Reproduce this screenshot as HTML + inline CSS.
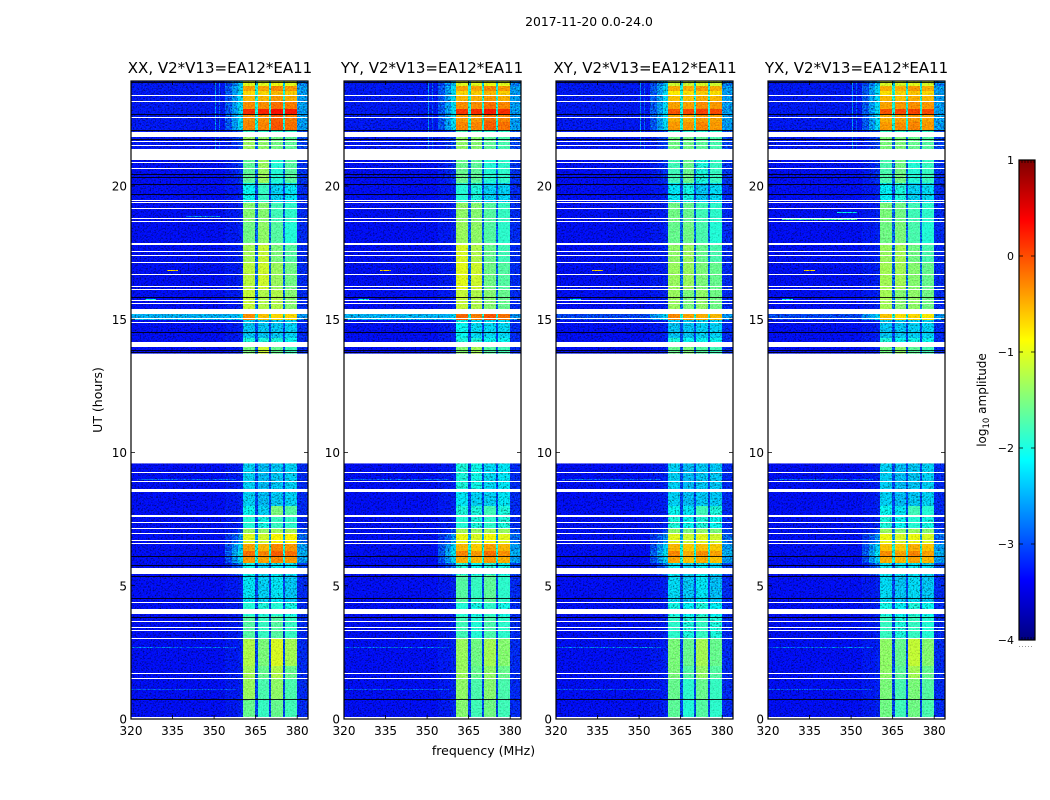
<!DOCTYPE html>
<html>
<head>
<meta charset="utf-8">
<title>2017-11-20 0.0-24.0</title>
<style>
html,body{margin:0;padding:0;background:#fff;}
svg{display:block;}
text{font-family:"DejaVu Sans","Liberation Sans",sans-serif;fill:#000;}
</style>
</head>
<body>
<svg id="chart" xmlns="http://www.w3.org/2000/svg" width="1050" height="800" viewBox="0 0 1050 800">
<defs>
<filter id="speckle" x="0" y="0" width="100%" height="100%" color-interpolation-filters="sRGB">
<feTurbulence type="fractalNoise" baseFrequency="0.72" numOctaves="2" seed="5"/>
<feColorMatrix type="matrix" values="2.2 0 0 0 -0.65  2.2 0 0 0 -0.65  2.2 0 0 0 -0.65  0 0 0 0 1"/>
</filter>
<filter id="speckle-dark" x="0" y="0" width="100%" height="100%" color-interpolation-filters="sRGB">
<feTurbulence type="fractalNoise" baseFrequency="0.6" numOctaves="2" seed="11"/>
<feColorMatrix type="matrix" values="1.7 0 0 0 0.12  1.7 0 0 0 0.12  1.7 0 0 0 0.12  0 0 0 0 1"/>
</filter>
</defs>
<text x="589" y="26" font-size="12.4" text-anchor="middle">2017-11-20 0.0-24.0</text>
<text x="483.5" y="755" font-size="12.5" text-anchor="middle">frequency (MHz)</text>
<text transform="translate(102,400) rotate(-90)" font-size="12.5" text-anchor="middle">UT (hours)</text>
<text transform="translate(986,400) rotate(-90)" font-size="12" text-anchor="middle">log<tspan font-size="8.5" dy="3">10</tspan><tspan dy="-3"> amplitude</tspan></text>
<g id="panels"></g>
<g id="colorbar"></g>
</svg>
<script>
// ---- data (log10 amplitude, hours, MHz) ----
const panelTitles = ["XX, V2*V13=EA12*EA11","YY, V2*V13=EA12*EA11","XY, V2*V13=EA12*EA11","YX, V2*V13=EA12*EA11"];
const xTicks = [320,335,350,365,380];
const yTicks = [0,5,10,15,20];
const cbarTicks = [-4,-3,-2,-1,0,1];
const cbarTickLabels = ["\u22124","\u22123","\u22122","\u22121","0","1"];

const rowStart = [0,0.74,1.5,2,3,3.85,4.4,5.4,5.85,6.1,6.3,6.56,6.95,7.15,7.6,8,8.5,13.71,14,14.3,14.98,15.18,16.1,17.1,17.8,18.7,19.4,20.1,21,21.85,22.12,22.4,22.7,22.9,23.14,23.36,23.55,23.75];
const rowEnd   = [0.74,1.5,2,3,3.85,4.4,5.4,5.85,6.1,6.3,6.56,6.95,7.15,7.6,8,8.5,9.59,14,14.3,14.98,15.18,16.1,17.1,17.8,18.7,19.4,20.1,21,21.85,22.12,22.4,22.7,22.9,23.14,23.36,23.55,23.75,23.94];

const bgLevels = [-3.3,-3.3,-3.3,-3.3,-3.3,-3.3,-3.3,-3.3,-3.3,-3.3,-3.3,-3.3,-3.3,-3.3,-3.3,-3.3,-3.3,-3.3,-3.3,-3.3,-3.0,-3.3,-3.3,-3.3,-3.3,-3.3,-3.3,-3.3,-3.25,-3.25,-3.25,-3.25,-3.25,-3.25,-3.25,-3.25,-3.25,-3.25];
const stormBg = [-2.45,-2.45,-3.0,-3.0];
const stormRow = 20;
const skirtFar  = [-3.25,-3.25,-3.25,-3.25,-3.25,-3.25,-3.25,-3.2,-2.95,-2.9,-2.95,-3.1,-3.25,-3.25,-3.25,-3.25,-3.25,-3.25,-3.25,-3.25,-2.6,-3.25,-3.25,-3.25,-3.25,-3.25,-3.25,-3.25,-3.2,-3.2,-2.9,-2.9,-2.9,-2.9,-2.9,-2.9,-2.9,-3.0];
const skirtMid  = [-3.25,-3.25,-3.25,-3.25,-3.25,-3.25,-3.25,-3.0,-2.6,-2.5,-2.6,-2.9,-3.2,-3.25,-3.25,-3.25,-3.25,-3.25,-3.25,-3.25,-2.5,-3.25,-3.25,-3.25,-3.25,-3.25,-3.25,-3.2,-3.1,-3.1,-2.55,-2.55,-2.55,-2.55,-2.55,-2.55,-2.55,-2.7];
const skirtNear = [-3.2,-3.2,-3.2,-3.2,-3.2,-3.2,-3.2,-2.8,-2.3,-2.2,-2.3,-2.6,-3.0,-3.2,-3.2,-3.2,-3.2,-3.2,-3.2,-3.2,-2.3,-3.2,-3.2,-3.2,-3.2,-3.2,-3.2,-3.1,-3.0,-3.0,-2.25,-2.25,-2.25,-2.25,-2.25,-2.25,-2.25,-2.4];
const edgeLevels = [-3.15,-3.15,-3.15,-3.15,-3.15,-3.15,-3.15,-3.0,-2.55,-2.45,-2.55,-2.8,-3.0,-3.15,-3.15,-3.15,-3.15,-3.15,-3.15,-3.15,-2.6,-3.15,-3.15,-3.15,-3.15,-3.15,-3.15,-3.1,-3.0,-3.0,-2.55,-2.55,-2.55,-2.55,-2.55,-2.55,-2.55,-2.7];
const notchLevels = [-3.0,-3.0,-3.0,-3.0,-3.0,-3.0,-3.0,-3.0,-2.0,-2.0,-2.0,-2.5,-2.8,-3.0,-3.0,-3.0,-3.0,-2.9,-3.0,-3.0,-2.0,-2.8,-2.8,-2.8,-2.8,-2.8,-3.0,-2.8,-2.8,-2.8,-2.0,-2.0,-2.0,-2.0,-2.0,-2.0,-2.0,-2.3];

const xxLevels = [
[-1.6,-1.85,-1.6,-1.8],[-1.35,-1.75,-1.4,-1.75],[-1.3,-1.6,-1.25,-1.6],[-1.25,-1.5,-1.05,-1.3],[-1.7,-1.85,-1.7,-1.85],[-1.95,-2,-1.95,-2.05],[-2.2,-2.3,-2.2,-2.35],[-2.1,-2.3,-2.2,-2.2],
[-.4,-.45,-.3,-.4],[-.2,-.3,-.1,-.2],[-.45,-.55,-.3,-.4],[-1.0,-1.1,-.85,-.85],[-1.35,-1.4,-1.3,-1.3],[-1.95,-2.05,-1.85,-1.9],[-2.1,-2.3,-1.5,-1.7],[-2.3,-2.4,-2.35,-2.3],[-2.3,-2.4,-2.35,-2.3],
[-1.5,-1.1,-1.6,-1.8],[-2.0,-2.0,-2.0,-2.1],[-2.35,-2.35,-2.35,-2.3],[-.35,-.6,-.7,-.7],[-1.15,-1.25,-1.25,-1.45],[-1.2,-1.1,-1.35,-1.55],[-1.3,-1.15,-1.5,-1.7],[-1.55,-1.4,-1.7,-1.95],[-1.45,-1.45,-1.8,-1.9],[-2.1,-1.85,-2.3,-2.2],[-1.65,-1.35,-1.95,-1.7],[-1.35,-1.4,-1.55,-1.65],[-1.9,-1.9,-1.9,-1.9],
[-.3,-.3,-.05,-.2],[-.35,-.35,-.1,-.25],[.15,.2,.3,.25],[-.35,-.35,-.2,-.25],[-.55,-.55,-.4,-.5],[-.7,-.7,-.55,-.65],[-.45,-.45,-.3,-.4],[-1.0,-1.0,-.95,-1.0]];
const yyLevels = [
[-1.45,-1.8,-1.55,-1.8],[-1.4,-1.75,-1.45,-1.75],[-1.35,-1.6,-1.4,-1.6],[-1.35,-1.55,-1.3,-1.45],[-1.8,-1.95,-1.75,-1.9],[-1.95,-2.05,-1.9,-2.05],[-1.7,-1.85,-1.65,-1.9],[-2.0,-2.1,-2.0,-2.1],
[-.5,-.55,-.4,-.5],[-.3,-.4,-.2,-.35],[-.55,-.65,-.45,-.55],[-.95,-1.05,-.9,-1],[-1.3,-1.35,-1.3,-1.35],[-1.95,-2.0,-1.9,-2.0],[-2.0,-2.0,-1.8,-2.0],[-2.2,-2.3,-2.3,-2.2],[-2.0,-2.05,-2.25,-2.2],
[-1.45,-1.3,-1.7,-1.8],[-2.0,-2.0,-2.1,-2.1],[-2.1,-2.25,-2.25,-2.25],[-.15,-.25,-.05,-.2],[-1.15,-1.25,-1.45,-1.6],[-1.0,-1.1,-1.55,-1.7],[-1.05,-1.25,-1.6,-1.8],[-1.35,-1.4,-1.7,-1.9],[-1.4,-1.45,-1.7,-1.85],[-1.95,-2.0,-2.3,-2.3],[-1.6,-1.65,-1.95,-1.9],[-1.4,-1.45,-1.65,-1.75],[-1.8,-1.8,-1.9,-1.9],
[-.3,-.3,-.1,-.2],[-.4,-.4,-.2,-.3],[.1,.15,.25,.15],[-.35,-.35,-.2,-.3],[-.55,-.5,-.4,-.5],[-.7,-.65,-.55,-.65],[-.45,-.45,-.3,-.4],[-1.0,-1.0,-.95,-1.0]];
const xyLevels = [
[-1.65,-1.95,-1.7,-1.9],[-1.6,-1.9,-1.6,-1.85],[-1.5,-1.7,-1.4,-1.7],[-1.5,-1.6,-1.3,-1.6],[-1.9,-2,-1.85,-2],[-2.05,-2.15,-2.0,-2.15],[-2.25,-2.35,-2.2,-2.4],[-2.2,-2.3,-2.2,-2.3],
[-.45,-.6,-.5,-.6],[-.3,-.5,-.35,-.45],[-.55,-.65,-.6,-.65],[-1.0,-1.1,-1,-1.1],[-1.4,-1.5,-1.4,-1.5],[-2.0,-2.1,-2.0,-2.1],[-2.1,-2.2,-1.8,-2.0],[-2.3,-2.4,-2.35,-2.35],[-2.3,-2.4,-2.35,-2.35],
[-1.6,-1.5,-1.7,-1.8],[-2.0,-2.1,-2.1,-2.1],[-2.35,-2.35,-2.3,-2.3],[-.3,-.45,-.5,-.55],[-1.35,-1.5,-1.4,-1.55],[-1.35,-1.35,-1.5,-1.6],[-1.4,-1.35,-1.6,-1.75],[-1.6,-1.55,-1.75,-1.95],[-1.55,-1.6,-1.8,-1.9],[-2.2,-2.05,-2.35,-2.25],[-1.8,-1.6,-2.0,-1.85],[-1.55,-1.55,-1.65,-1.75],[-1.95,-1.95,-1.95,-1.95],
[-.4,-.4,-.3,-.4],[-.5,-.5,-.4,-.45],[-.05,0,.05,0],[-.45,-.45,-.35,-.4],[-.6,-.6,-.5,-.55],[-.8,-.75,-.65,-.75],[-.5,-.5,-.4,-.5],[-1.1,-1.1,-1.05,-1.1]];
const yxLevels = [
[-1.55,-1.8,-1.55,-1.75],[-1.5,-1.75,-1.5,-1.7],[-1.4,-1.65,-1.3,-1.6],[-1.4,-1.6,-1.15,-1.45],[-1.85,-2,-1.85,-1.95],[-2.05,-2.15,-2.0,-2.1],[-2.25,-2.35,-2.25,-2.35],[-2.2,-2.2,-2.2,-2.25],
[-.5,-.55,-.45,-.55],[-.35,-.45,-.3,-.45],[-.6,-.65,-.5,-.6],[-.95,-1.05,-.95,-1.05],[-1.35,-1.45,-1.35,-1.45],[-2.0,-2.1,-1.95,-2.05],[-2.1,-2.2,-1.8,-1.95],[-2.3,-2.4,-2.35,-2.3],[-2.3,-2.4,-2.35,-2.3],
[-1.55,-1.4,-1.65,-1.8],[-2.0,-2.1,-2.05,-2.1],[-2.35,-2.35,-2.3,-2.3],[-.6,-.75,-.7,-.8],[-1.3,-1.45,-1.4,-1.55],[-1.3,-1.3,-1.45,-1.6],[-1.35,-1.3,-1.55,-1.75],[-1.55,-1.5,-1.75,-1.95],[-1.5,-1.55,-1.8,-1.9],[-2.15,-2.0,-2.3,-2.25],[-1.75,-1.55,-1.95,-1.85],[-1.5,-1.5,-1.6,-1.7],[-1.9,-1.9,-1.9,-1.9],
[-.4,-.35,-.3,-.4],[-.5,-.45,-.4,-.45],[-.05,0,.05,0],[-.45,-.4,-.35,-.4],[-.55,-.6,-.5,-.55],[-.75,-.7,-.6,-.7],[-.5,-.5,-.4,-.5],[-1.05,-1.05,-1.0,-1.05]];
const panelLevels = [xxLevels,yyLevels,xyLevels,yxLevels];

const gapStart = [0,0.06,1.49,1.70,2.99,3.31,3.43,3.63,3.94,4.34,5.44,6.56,6.69,6.94,7.14,7.37,7.59,8.50,8.88,9.23,13.97,14.87,15.0,15.18,15.57,15.67,16.11,16.22,16.67,17.11,17.36,17.51,17.77,18.66,18.77,19.14,19.35,19.45,20.64,20.87,20.97,21.5,21.65,21.84,22.55,23.14,23.36];
const gapEnd   = [0.03,0.09,1.53,1.74,3.03,3.35,3.47,3.67,4.13,4.38,5.67,6.60,6.73,6.98,7.18,7.41,7.64,8.62,8.92,9.27,14.13,14.91,15.04,15.37,15.61,15.71,16.15,16.26,16.71,17.15,17.40,17.55,17.87,18.70,18.81,19.18,19.39,19.49,20.68,20.91,21.37,21.54,21.69,22.03,22.59,23.18,23.40];
const blackHours = [0.74,3.84,4.53,5.37,5.78,6.12,13.77,13.86,14.51,15.82,19.69,20.09,20.35,20.45,21.76,22.12,22.69,23.92];

// panel -1 means the streak shows in every polarisation
const streakHour = [1.1,2.65,8.97,15.73,16.8,18.85,18.72,19.0];
const streakFrom = [320,320,322,325,333,340,325,345];
const streakTo   = [358,358,358,329,337,352,352,352];
const streakLevel= [-2.9,-2.8,-2.85,-2.1,-0.7,-2.6,-1.8,-2.1];
const streakPanel= [-1,-1,-1,-1,-1,0,3,3];

const spikeFreq = [350.5,351.6];
const spikeFrom = [21.4,21.4];
const spikeTo   = [23.9,23.9];
const spikeLevel= [-2.6,-2.9];

// ---- axes ----
const panelX = [131,344,556,768];
const titleX = [220,432,645,856.5];
const subbandEdges = [[360.5,364.7],[365.7,369.9],[370.6,375],[375.7,379.9]];
const plotW = 177, plotTop = 81, plotBottom = 719;
const xMin = 320, xMax = 383.9, yMin = 0, yMax = 23.94;
const cbarX = 1019, cbarW = 16, cbarTop = 160, cbarBottom = 640, cMin = -4, cMax = 1;
const NS = "http://www.w3.org/2000/svg";

function xScale(p, f){ return panelX[p] + (f - xMin) / (xMax - xMin) * plotW; }
function yScale(h){ return plotBottom - (h - yMin) / (yMax - yMin) * (plotBottom - plotTop); }
function cScale(v){ return cbarBottom - (v - cMin) / (cMax - cMin) * (cbarBottom - cbarTop); }
function jet(v){
  const t = Math.max(0, Math.min(1, (v - cMin) / (cMax - cMin)));
  const ramp = (a) => Math.max(0, Math.min(1, 1.5 - Math.abs(4 * t - a)));
  const c = [ramp(3), ramp(2), ramp(1)].map(x => Math.round(x * 255));
  return "rgb(" + c.join(",") + ")";
}
function mk(parent, tag, attrs){
  const el = document.createElementNS(NS, tag);
  for (const k in attrs) el.setAttribute(k, attrs[k]);
  parent.appendChild(el);
  return el;
}
function cell(g, p, f0, f1, h0, h1, level, alpha){
  const x0 = Math.round(xScale(p, f0)), x1 = Math.round(xScale(p, f1));
  const y0 = Math.round(yScale(h1)), y1 = Math.round(yScale(h0));
  const el = mk(g, "rect", {x:x0, y:y0, width:Math.max(1, x1-x0), height:Math.max(1, y1-y0), fill:jet(level), "fill-opacity":alpha === undefined ? 1 : alpha, "shape-rendering":"crispEdges"});
  
  
}

const root = document.getElementById("panels");
panelTitles.forEach((title, p) => {
  const g = mk(root, "g", {});
  
  
  const heat = mk(g, "g", {});
  
  
  rowStart.forEach((h0, r) => {
    const h1 = rowEnd[r], lv = panelLevels[p][r];
    const storm = r === stormRow;
    const bg = storm ? stormBg[p] : bgLevels[r];
    cell(heat, p, 320, 354, h0, h1, bg);
    cell(heat, p, 354, 356.5, h0, h1, storm ? Math.max(stormBg[p], skirtFar[r]) : skirtFar[r]);
    cell(heat, p, 356.5, 358.5, h0, h1, storm ? Math.max(stormBg[p], skirtMid[r]) : skirtMid[r]);
    cell(heat, p, 358.5, 360.5, h0, h1, storm ? Math.max(stormBg[p], skirtNear[r]) : skirtNear[r]);
    cell(heat, p, 360.5, 364.7, h0, h1, lv[0]);
    cell(heat, p, 364.7, 365.7, h0, h1, notchLevels[r]);
    cell(heat, p, 365.7, 369.9, h0, h1, lv[1]);
    cell(heat, p, 369.9, 370.6, h0, h1, notchLevels[r]);
    cell(heat, p, 370.6, 375, h0, h1, lv[2]);
    cell(heat, p, 375, 375.7, h0, h1, notchLevels[r]);
    cell(heat, p, 375.7, 379.9, h0, h1, lv[3]);
    cell(heat, p, 379.9, xMax, h0, h1, edgeLevels[r]);
  });
  streakHour.forEach((h, i) => {
    if (streakPanel[i] === p || streakPanel[i] === -1) cell(heat, p, streakFrom[i], streakTo[i], h, h + 0.04, streakLevel[i]);
  });
  spikeFreq.forEach((f, i) => {
    cell(heat, p, f, f + 0.35, spikeFrom[i], spikeTo[i], spikeLevel[i]);
  });
  const noise = mk(g, "rect", {x:panelX[p], y:plotTop, width:plotW, height:plotBottom-plotTop, filter:"url(#speckle)", style:"mix-blend-mode:overlay", opacity:"0.7"});
  
  
  const dark = mk(g, "rect", {x:panelX[p], y:plotTop, width:plotW, height:plotBottom-plotTop, filter:"url(#speckle-dark)", style:"mix-blend-mode:multiply"});
  
  
  // strong rows are smooth in the reference: wash the noise back out of them
  const smooth = mk(g, "g", {});
  
  
  rowStart.forEach((h0, r) => {
    panelLevels[p][r].forEach((v, s) => {
      if (v > -2.0) cell(smooth, p, subbandEdges[s][0], subbandEdges[s][1], h0, rowEnd[r], v, 0.65);
    });
  });
  const hole = mk(g, "rect", {x:panelX[p], y:yScale(rowStart[17]), width:plotW, height:yScale(rowEnd[16])-yScale(rowStart[17]), fill:"#fff"});
  
  
  gapStart.forEach((h0, i) => {
    const y0 = Math.round(yScale(gapEnd[i])), y1 = Math.round(yScale(h0));
    const el = mk(g, "rect", {x:panelX[p], y:y0, width:plotW, height:Math.max(1, y1-y0), fill:"#fff", "shape-rendering":"crispEdges"});
    
    
  });
  blackHours.forEach((h) => {
    const el = mk(g, "rect", {x:panelX[p], y:Math.round(yScale(h)), width:plotW, height:1, fill:"#000", opacity:"0.85", "shape-rendering":"crispEdges"});
    
    
  });
  const frame = mk(g, "rect", {x:panelX[p], y:plotTop, width:plotW, height:plotBottom-plotTop, fill:"none", stroke:"#000", "stroke-width":"1.2"});
  
  
  xTicks.forEach((f) => {
    const x = xScale(p, f);
    mk(g, "path", {d:"M"+x+" "+plotBottom+"v-4M"+x+" "+plotTop+"v4", stroke:"#000", "stroke-width":"0.8", fill:"none"});
    const t = mk(g, "text", {x:x, y:735, "font-size":"12", "text-anchor":"middle"});
    t.textContent = f;
    
    
  });
  yTicks.forEach((h) => {
    const y = yScale(h), x0 = panelX[p];
    mk(g, "path", {d:"M"+x0+" "+y+"h4M"+(x0+plotW)+" "+y+"h-4", stroke:"#000", "stroke-width":"0.8", fill:"none"});
    const t = mk(g, "text", {x:x0-4, y:y+4.5, "font-size":"12", "text-anchor":"end"});
    t.textContent = h;
    
    
  });
  const tt = mk(g, "text", {x:titleX[p], y:73, "font-size":"15", "text-anchor":"middle"});
  tt.textContent = title;
  
  
});

// ---- colorbar ----
const cb = document.getElementById("colorbar");
for (let y = cbarTop; y < cbarBottom; y++) {
  const v = cMax - (y + 0.5 - cbarTop) / (cbarBottom - cbarTop) * (cMax - cMin);
  const s = mk(cb, "rect", {x:cbarX, y:y, width:cbarW, height:1, fill:jet(v), "shape-rendering":"crispEdges"});
  
  
}
const cf = mk(cb, "rect", {x:cbarX, y:cbarTop, width:cbarW, height:cbarBottom-cbarTop, fill:"none", stroke:"#000", "stroke-width":"1.2"});


cbarTicks.forEach((v, i) => {
  const y = cScale(v);
  mk(cb, "path", {d:"M"+cbarX+" "+y+"h4M"+(cbarX+cbarW)+" "+y+"h-4", stroke:"#000", "stroke-width":"0.8", fill:"none"});
  const t = mk(cb, "text", {x:cbarX-5, y:y+4, "font-size":"11", "text-anchor":"end"});
  t.textContent = cbarTickLabels[i];
  
  
});
for (let x = cbarX + 3; x < cbarX + cbarW; x += 3) {
  mk(cb, "path", {d:"M"+x+" "+cbarTop+"v3M"+x+" "+cbarBottom+"v-3", stroke:"#000", "stroke-width":"0.7", fill:"none"});
  mk(cb, "rect", {x:x-3, y:646, width:1, height:1, fill:"#999"});
}
</script>
</body>
</html>
